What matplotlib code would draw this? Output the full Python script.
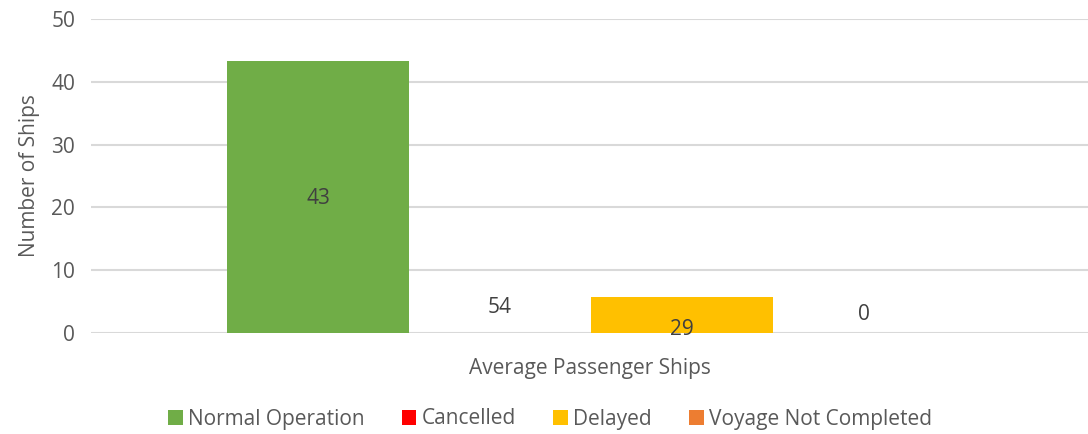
import numpy as np
import matplotlib.pyplot as plt

plt.rcParams['font.family'] = ['Open Sans', 'DejaVu Sans']

# data
categories = ["Normal Operation", "Cancelled", "Delayed", "Voyage Not Completed"]
values = [43.3, 0, 5.7, 0]
labels = ["43", "54", "29", "0"]
label_y = [21.4, 4.0, 0.6, 3.0]
colors = ["#70ad47", "#ff0000", "#ffc000", "#ed7d31"]
group = "Average Passenger Ships"

fs = 15
fig = plt.figure(figsize=(10.88, 4.34), dpi=100)
ax = fig.add_axes([91 / 1088, 1 - 333 / 434, 1 - 91 / 1088, (333 - 19) / 434])

x = np.arange(len(categories)) - 1.5
for xi, v, c, name in zip(x, values, colors, categories):
    ax.bar(xi, v, width=1.0, color=c, label=name, zorder=2)
for xi, t, ly in zip(x, labels, label_y):
    ax.text(xi, ly, t, ha='center', va='center', fontsize=fs, color='#404040', zorder=3)

ax.set_xlim(-2.747, 2.731)
ax.set_ylim(0, 50)
ax.set_yticks([0, 10, 20, 30, 40, 50])
ax.set_xticks([])
ax.grid(axis='y', color='#d9d9d9', linewidth=1.5, zorder=0)
for s in ax.spines.values():
    s.set_visible(False)
ax.tick_params(axis='y', length=0, labelsize=fs, labelcolor='#595959', pad=11.5)
ax.set_ylabel("Number of Ships", fontsize=fs, color='#595959', labelpad=8)
ax.set_xlabel(group, fontsize=fs, color='#595959', labelpad=18)

fig.legend(loc='center', bbox_to_anchor=(0.5 + 6 / 1088, 1 - 419 / 434), ncol=4, frameon=False,
           fontsize=fs, labelcolor='#595959', handlelength=0.7, handleheight=0.7,
           handletextpad=0.25, columnspacing=1.8)

fig.savefig("out.png", dpi=100)
